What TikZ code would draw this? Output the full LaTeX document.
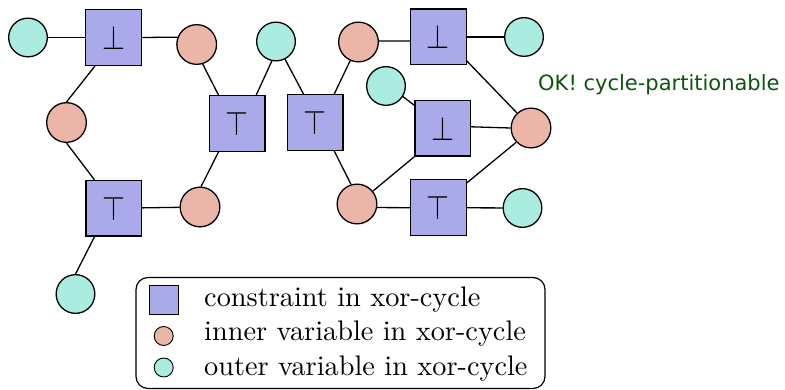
\documentclass[tikz,border=0pt]{standalone}
\usepackage{graphicx}
\usepackage{fontspec}
\newfontfamily\okfont{DejaVu Sans}
\definecolor{consfill}{RGB}{170,170,235}
\definecolor{innerfill}{RGB}{235,182,168}
\definecolor{outerfill}{RGB}{170,237,224}
\definecolor{okgreen}{RGB}{12,85,12}
\newcommand{\bigtxt}[1]{\scalebox{2.83}{#1}}
\newcommand{\bigsym}[1]{\scalebox{2.95}[3.4]{$#1$}}
\tikzset{
  cons/.style={draw, line width=1.3pt, fill=consfill, minimum size=55.7pt, inner sep=0pt},
  innervar/.style={circle, draw, line width=1.3pt, fill=innerfill, minimum size=39.7pt, inner sep=0pt},
  outervar/.style={circle, draw, line width=1.3pt, fill=outerfill, minimum size=38.7pt, inner sep=0pt},
  link/.style={line width=1.3pt},
  legtext/.style={anchor=base west, inner sep=0pt},
}
\begin{document}
\begin{tikzpicture}[x=1pt, y=-1pt]
\useasboundingbox (0,0) rectangle (785,390);

% constraints
\node[cons] (s1) at (113.5,37.5) {\bigsym{\bot}};
\node[cons] (s2) at (237,123.5) {\bigsym{\top}};
\node[cons] (s3) at (315,122.5) {\bigsym{\top}};
\node[cons] (s4) at (438.3,37) {\bigsym{\bot}};
\node[cons] (s5) at (442.7,128.3) {\bigsym{\bot}};
\node[cons] (s6) at (438.3,207.7) {\bigsym{\top}};
\node[cons] (s7) at (113.7,208.3) {\bigsym{\top}};

% outer variables
\node[outervar] (o1) at (28,37.5) {};
\node[outervar] (o2) at (276,41.5) {};
\node[outervar] (o3) at (75.5,294) {};
\node[outervar] (o4) at (524,37) {};
\node[outervar] (o5) at (386,86) {};
\node[outervar] (o6) at (522.5,208) {};

% inner variables
\node[innervar] (i1) at (196.7,44.5) {};
\node[innervar] (i2) at (66.5,122.5) {};
\node[innervar] (i3) at (200,207) {};
\node[innervar] (i4) at (358.5,42) {};
\node[innervar] (i5) at (531,128) {};
\node[innervar] (i6) at (357,204) {};

% edges of the left cycle
\draw[link] (o1) -- (s1);
\draw[link] (s1.east) -- (i1.159);
\draw[link] (s1.-123) -- (i2.north);
\draw[link] (i2.south) -- (s7.124);
\draw[link] (s7) -- (i3);
\draw[link] (s7.-124) -- (o3.north);
\draw[link] (i1.-73) -- (s2.123);
\draw[link] (s2.-123) -- (i3.87);
\draw[link] (s2.56) -- (o2.-102);

% edges of the right cycle
\draw[link] (o2.-63) -- (s3.112);
\draw[link] (s3.56) -- (i4.-114);
\draw[link] (s3.-56) -- (i6.107);
\draw[link] (i4.3) -- (s4.-172);
\draw[link] (s4) -- (o4);
\draw[link] (s4.-40) -- (i5.133);
\draw[link] (o5.-32) -- (s5.141);
\draw[link] (s5.3) -- (i5.west);
\draw[link] (s5.south west) -- (i6.39);
\draw[link] (i6.-10) -- (s6.west);
\draw[link] (s6) -- (o6);
\draw[link] (s6.41) -- (i5.-136);

% status message
\node[anchor=base west, inner sep=0pt, text=okgreen] (ok) at (538,91)
  {\okfont\fontsize{21}{25}\selectfont OK! cycle-partitionable};

% legend
\node[draw, line width=1.2pt, rounded corners=12pt, minimum width=409pt, minimum height=111pt,
  inner sep=0pt] (legend) at (340.5,333) {};
\node[draw, line width=0.9pt, fill=consfill, minimum size=29pt, inner sep=0pt] (lgs) at (164.3,299.5) {};
\node[circle, draw, line width=0.9pt, fill=innerfill, minimum size=19pt, inner sep=0pt] (lgi) at (163.7,336) {};
\node[circle, draw, line width=0.9pt, fill=outerfill, minimum size=19pt, inner sep=0pt] (lgo) at (163.7,367.5) {};
\node[legtext] (t1) at (204,306) {\bigtxt{constraint in xor-cycle}};
\node[legtext] (t2) at (204,341) {\bigtxt{inner variable in xor-cycle}};
\node[legtext] (t3) at (204,375) {\bigtxt{outer variable in xor-cycle}};
\end{tikzpicture}
\end{document}
